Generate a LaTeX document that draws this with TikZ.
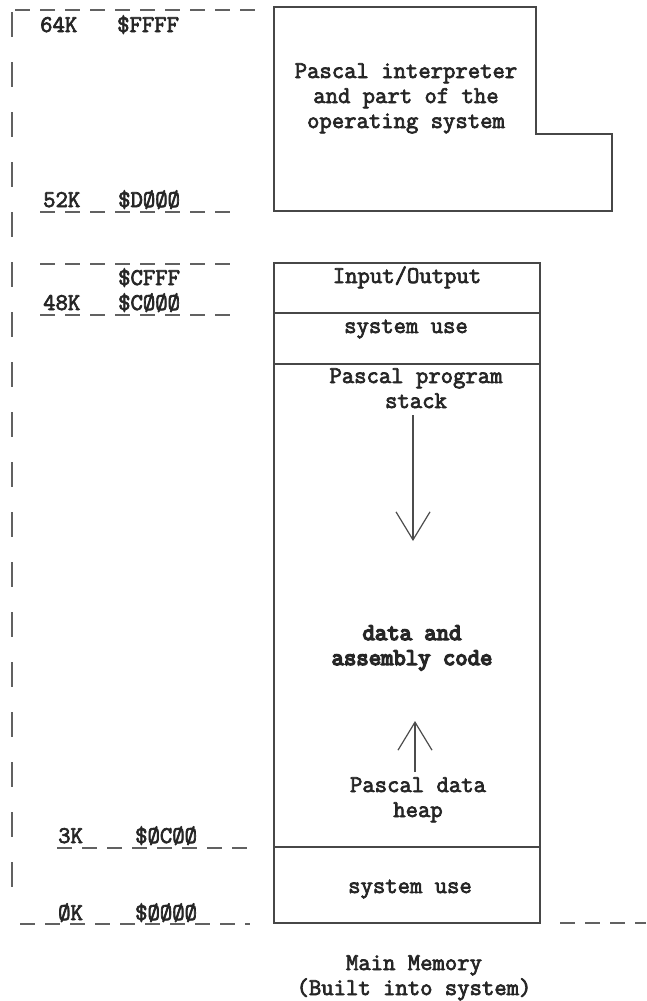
\documentclass[tikz,border=0pt]{standalone}
\usepackage{fontspec}
\setmonofont{Latin Modern Mono}[RawFeature={embolden=3}]
\newfontfamily\heavytt{Latin Modern Mono}[RawFeature={embolden=6}]
\usetikzlibrary{arrows.meta,positioning}

\tikzset{
    wall/.style={line width=1.4pt, draw=black!72},
    guide/.style={line width=1.3pt, draw=black!62, dash pattern=on 15pt off 10pt},
    rail/.style={line width=1.5pt, draw=black!62, dash pattern=on 25pt off 25pt},
    lbl/.style={font=\ttfamily\fontsize{24}{25}\selectfont, text=black!85, inner sep=0pt, align=center, anchor=base},
    addr/.style={lbl, anchor=base west},
    growarrow/.style={line width=1.2pt, draw=black!70, -{Straight Barb[length=28pt,width=34pt,line width=1.2pt]}}
}

\begin{document}
\begin{tikzpicture}[x=1pt,y=-1pt]
    \useasboundingbox (0,0) rectangle (646,1001);
    % address scale on the left
    \draw[rail] (12,12) -- (12,900);
    \draw[guide] (15,10) -- (255,10);
    \draw[guide] (40,212) -- (232,212);
    \draw[guide] (40,264) -- (232,264);
    \draw[guide] (40,315) -- (232,315);
    \draw[guide] (57,848) -- (250,848);
    \draw[guide] (20,924) -- (250,924);
    \draw[guide] (560,923) -- (646,923);
    \node[addr] (k64) at (40,32) {64K};
    \node[addr] (hFFFF) at (117,32) {\$FFFF};
    \node[addr] (k52) at (43,207) {52K};
    \node[addr] (hD000) at (118,207) {\$DØØØ};
    \node[addr] (hCFFF) at (118,285) {\$CFFF};
    \node[addr] (k48) at (43,310) {48K};
    \node[addr] (hC000) at (118,310) {\$CØØØ};
    \node[addr] (k3) at (58,843) {3K};
    \node[addr] (h0C00) at (135,843) {\$ØCØØ};
    \node[addr] (k0) at (58,920) {ØK};
    \node[addr] (h0000) at (135,920) {\$ØØØØ};

    % language card (upper 16K)
    \draw[wall] (274,7) -- (536,7) -- (536,134) -- (612,134) -- (612,211) -- (274,211) -- cycle;
    \node[lbl] (interp) at (406,128) {Pascal interpreter\\and part of the\\operating system};

    % main memory
    \draw[wall] (274,263) rectangle (540,923);
    \draw[wall] (274,313) -- (540,313);
    \draw[wall] (274,364) -- (540,364);
    \draw[wall] (274,847) -- (540,847);
    \node[lbl] (io) at (407,283) {Input/Output};
    \node[lbl] (sysTop) at (406,333) {system use};
    \node[lbl] (stack) at (416,408) {Pascal program\\stack};
    \node[lbl, font=\heavytt\fontsize{24}{25}\selectfont] (code) at (412,665) {data and\\assembly code};
    \node[lbl] (heap) at (418,817) {Pascal data\\heap};
    \node[lbl] (sysLow) at (410,893) {system use};
    \node[lbl] (caption) at (414,995) {Main Memory\\(Built into system)};

    \coordinate (stackTop) at (413,415);
    \coordinate (stackEnd) at (413,541);
    \coordinate (heapTop) at (415,772);
    \coordinate (heapEnd) at (415,721);
    \draw[growarrow] (stackTop) -- (stackEnd);
    \draw[growarrow] (heapTop) -- (heapEnd);
\end{tikzpicture}
\end{document}
